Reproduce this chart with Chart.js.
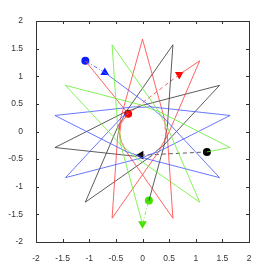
<!DOCTYPE html>
<html>
<head>
<meta charset="utf-8">
<script src="https://cdn.jsdelivr.net/npm/chart.js@4.4.0/dist/chart.umd.min.js"></script>
<style>
  html, body { margin: 0; padding: 0; background: #fff; }
</style>
</head>
<body>
<canvas id="orbits" width="275" height="273"></canvas>
<script>
// tick values (same on both axes)
const tickValues = [-2, -1.5, -1, -0.5, 0, 0.5, 1, 1.5, 2];

// traced points along each coloured path, as [radius, angle in degrees]
const redPath = [
  [1.67,130],[0.42,130],[0.43,160],[0.43,185],[0.44,205],[0.44,215],[0.47,228],
  [1.67,290],[0.47,352],[0.44,5],[0.44,15],[0.47,28],
  [1.67,90],[0.47,152],[0.44,165],[0.44,175],[0.47,188],
  [1.67,250],[0.47,312],[0.44,325],[0.44,335],[0.47,348],
  [1.67,50],[1.24,56.2]
];
const bluePath = [
  [0.42,130],[0.44,135],[0.47,148],
  [1.67,210],[0.47,272],[0.44,285],[0.44,295],[0.47,308],
  [1.67,10],[0.47,72],[0.44,85],[0.44,95],[0.47,108],
  [1.67,170],[0.47,232],[0.44,245],[0.44,255],[0.47,268],
  [1.67,330],[0.47,32],[0.44,45],[0.44,55],[0.47,68],
  [1.28,123.6]
];
const blackPath = [
  [1.256,275.5],[0.47,332],[0.44,345],[0.44,355],[0.47,8],
  [1.67,70],[0.47,132],[0.44,145],[0.44,155],[0.47,168],
  [1.67,230],[0.47,292],[0.44,305],[0.44,315],[0.47,328],
  [1.67,30],[0.47,92],[0.44,105],[0.44,115],[0.47,128],
  [1.67,190],[0.47,252],[0.43,266]
];
const greenPath = [
  [1.265,343],[1.67,350],[0.47,52],[0.44,65],[0.44,75],[0.47,88],
  [1.67,150],[0.47,212],[0.44,225],[0.44,235],[0.47,248],
  [1.67,310],[0.47,12],[0.44,25],[0.44,35],[0.47,48],
  [1.67,110],[0.47,172],[0.44,185],[0.44,195],[0.47,208],
  [1.67,270]
];

// dashed links: triangle -> circle
const redDash   = [[1.24,56.2],[0.42,130]];
const blueDash  = [[1.28,123.6],[1.67,130]];
const blackDash = [[0.43,266],[1.265,343]];
const greenDash = [[1.67,270],[1.256,275.5]];

// markers: red, blue, black, green
const circleMarks   = [[0.42,130],[1.67,130],[1.265,343],[1.256,275.5]];
const triangleMarks = [[1.24,56.2],[1.28,123.6],[0.43,266],[1.67,270]];
const markColors    = ["#ff0000","#0a1eff","#000000","#44e000"];
const triangleTurn  = [180, 0, 270, 180];

function toXY(list) {
  return list.map(p => ({
    x: p[0] * Math.cos(p[1] * Math.PI / 180),
    y: p[0] * Math.sin(p[1] * Math.PI / 180)
  }));
}

function pathSet(pts, color, dash) {
  return {
    data: toXY(pts),
    showLine: true,
    borderColor: color,
    borderWidth: 0.8,
    borderDash: dash || [],
    pointRadius: 0,
    tension: 0
  };
}

const datasets = [
  pathSet(greenPath, "#66ee33"),
  pathSet(bluePath, "#4455ff"),
  pathSet(redPath, "#ff3b3b"),
  pathSet(blackPath, "#333333"),
  pathSet(redDash, "#ff3b3b", [4, 3]),
  pathSet(blueDash, "#4455ff", [4, 2, 1, 2]),
  pathSet(blackDash, "#333333", [4, 3]),
  pathSet(greenDash, "#66ee33", [4, 2, 1, 2]),
  {
    data: toXY(circleMarks),
    showLine: false,
    pointStyle: "circle",
    pointRadius: 4,
    pointBackgroundColor: markColors,
    pointBorderColor: markColors,
    pointBorderWidth: 0
  },
  {
    data: toXY(triangleMarks),
    showLine: false,
    pointStyle: "triangle",
    pointRadius: 5,
    rotation: triangleTurn,
    pointBackgroundColor: markColors,
    pointBorderColor: markColors,
    pointBorderWidth: 0
  }
];

// box round the plot and inward ticks on all four sides
const boxTicks = {
  id: "boxTicks",
  afterDatasetsDraw(chart) {
    const { ctx, chartArea: a, scales } = chart;
    ctx.save();
    ctx.strokeStyle = "#333";
    ctx.lineWidth = 1;
    ctx.strokeRect(Math.round(a.left) + 0.5, Math.round(a.top) + 0.5,
      Math.round(a.right - a.left), Math.round(a.bottom - a.top));
    ctx.beginPath();
    tickValues.forEach(v => {
      const px = Math.round(scales.x.getPixelForValue(v)) + 0.5;
      ctx.moveTo(px, a.bottom); ctx.lineTo(px, a.bottom - 3);
      ctx.moveTo(px, a.top); ctx.lineTo(px, a.top + 3);
      const py = Math.round(scales.y.getPixelForValue(v)) + 0.5;
      ctx.moveTo(a.left, py); ctx.lineTo(a.left + 3, py);
      ctx.moveTo(a.right, py); ctx.lineTo(a.right - 3, py);
    });
    ctx.stroke();
    ctx.restore();
  }
};

const tickFont = { family: "'Liberation Sans', Arial, sans-serif", size: 8.5 };
const plain = v => String(v);

new Chart(document.getElementById("orbits"), {
  type: "scatter",
  data: { datasets },
  options: {
    responsive: false,
    animation: false,
    layout: { padding: { top: 21, right: 26, left: 0, bottom: 0 } },
    plugins: { legend: { display: false }, tooltip: { enabled: false } },
    scales: {
      x: {
        min: -2, max: 2,
        afterBuildTicks: s => { s.ticks = tickValues.map(v => ({ value: v })); },
        afterFit: s => { s.height = 31; },
        ticks: { font: tickFont, color: "#333", padding: 4, maxRotation: 0, autoSkip: false, callback: plain },
        grid: { display: false },
        border: { display: false }
      },
      y: {
        min: -2, max: 2,
        afterBuildTicks: s => { s.ticks = tickValues.map(v => ({ value: v })); },
        afterFit: s => { s.width = 36; },
        ticks: { font: tickFont, color: "#333", padding: 5, autoSkip: false, callback: plain },
        grid: { display: false },
        border: { display: false }
      }
    }
  },
  plugins: [boxTicks]
});
</script>
</body>
</html>
